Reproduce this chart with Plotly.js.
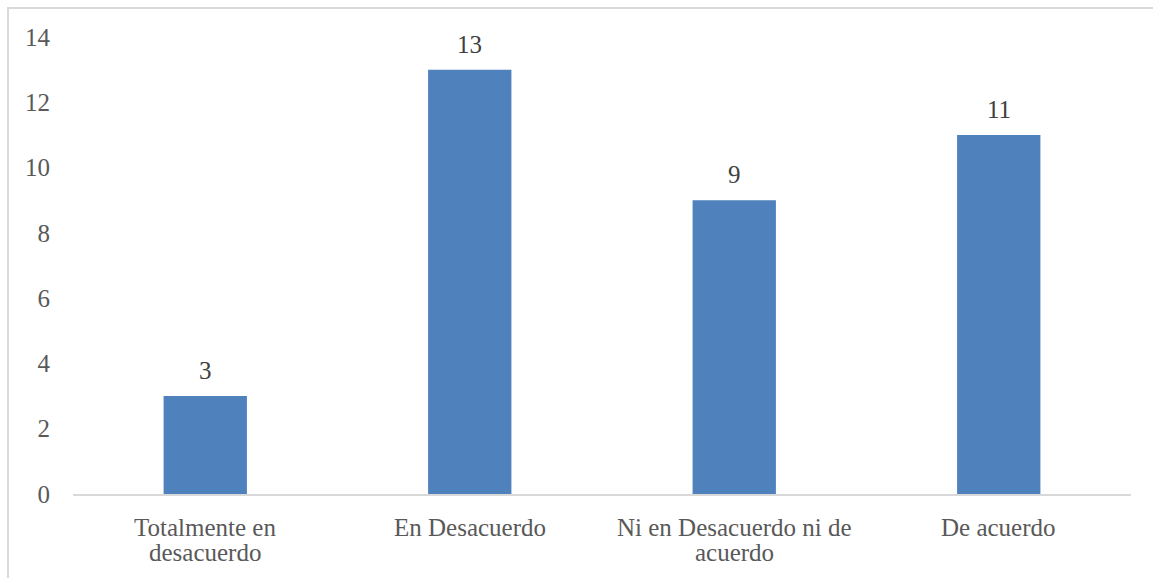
<!DOCTYPE html>
<html>
<head>
<meta charset="utf-8">
<script src="https://cdn.plot.ly/plotly-3.0.1.min.js"></script>
<style>
  html, body { margin: 0; padding: 0; background: #fff; }
  #wrap { position: relative; width: 1153px; height: 578px; overflow: hidden; }
  #chart { width: 1153px; height: 578px; }
  #frame { position: absolute; left: 7px; top: 7px; width: 1160px; height: 600px;
           border-top: 2px solid #d9d9d9; border-left: 2px solid #d9d9d9; pointer-events: none; }
</style>
</head>
<body>
<div id="wrap">
  <div id="chart"></div>
  <div id="frame"></div>
</div>
<script>
const categories = ["Totalmente en desacuerdo", "En Desacuerdo", "Ni en Desacuerdo ni de acuerdo", "De acuerdo"];
const categoryLines = [["Totalmente en", "desacuerdo"], ["En Desacuerdo"], ["Ni en Desacuerdo ni de", "acuerdo"], ["De acuerdo"]];
const values = [3, 13, 9, 11];
const yTicks = [0, 2, 4, 6, 8, 10, 12, 14];

const fontFam = "Liberation Serif, serif";
const textColor = "#595959";
const fs = 25;

const trace = {
  type: "bar",
  x: categories,
  y: values,
  marker: { color: "#4f81bd" },
  hoverinfo: "none"
};

const annotations = [];
values.forEach((v, i) => {
  annotations.push({
    x: categories[i], y: v, xref: "x", yref: "y",
    text: String(v), showarrow: false,
    yanchor: "bottom", yshift: 10,
    font: { family: fontFam, size: fs, color: "#404040" }
  });
});
categoryLines.forEach((lines, i) => {
  lines.forEach((ln, j) => {
    annotations.push({
      x: categories[i], y: 0, xref: "x", yref: "paper",
      text: ln, showarrow: false,
      yanchor: "middle", yshift: -33 - 25 * j,
      font: { family: fontFam, size: fs, color: textColor }
    });
  });
});

const layout = {
  width: 1153,
  height: 578,
  margin: { l: 73, r: 22, t: 37, b: 84 },
  paper_bgcolor: "#ffffff",
  plot_bgcolor: "#ffffff",
  bargap: 0.685,
  showlegend: false,
  font: { family: fontFam, size: fs, color: textColor },
  annotations: annotations,
  xaxis: {
    type: "category",
    showgrid: false,
    showline: true,
    linecolor: "#d9d9d9",
    linewidth: 2,
    ticks: "",
    showticklabels: false,
    fixedrange: true
  },
  yaxis: {
    range: [0, 14],
    tickvals: yTicks,
    ticktext: yTicks.map(String),
    showgrid: false,
    zeroline: false,
    showline: false,
    ticks: "",
    ticklabelstandoff: 22,
    tickfont: { family: fontFam, size: fs, color: textColor },
    fixedrange: true
  }
};

Plotly.newPlot("chart", [trace], layout, { displayModeBar: false, staticPlot: true });
</script>
</body>
</html>
